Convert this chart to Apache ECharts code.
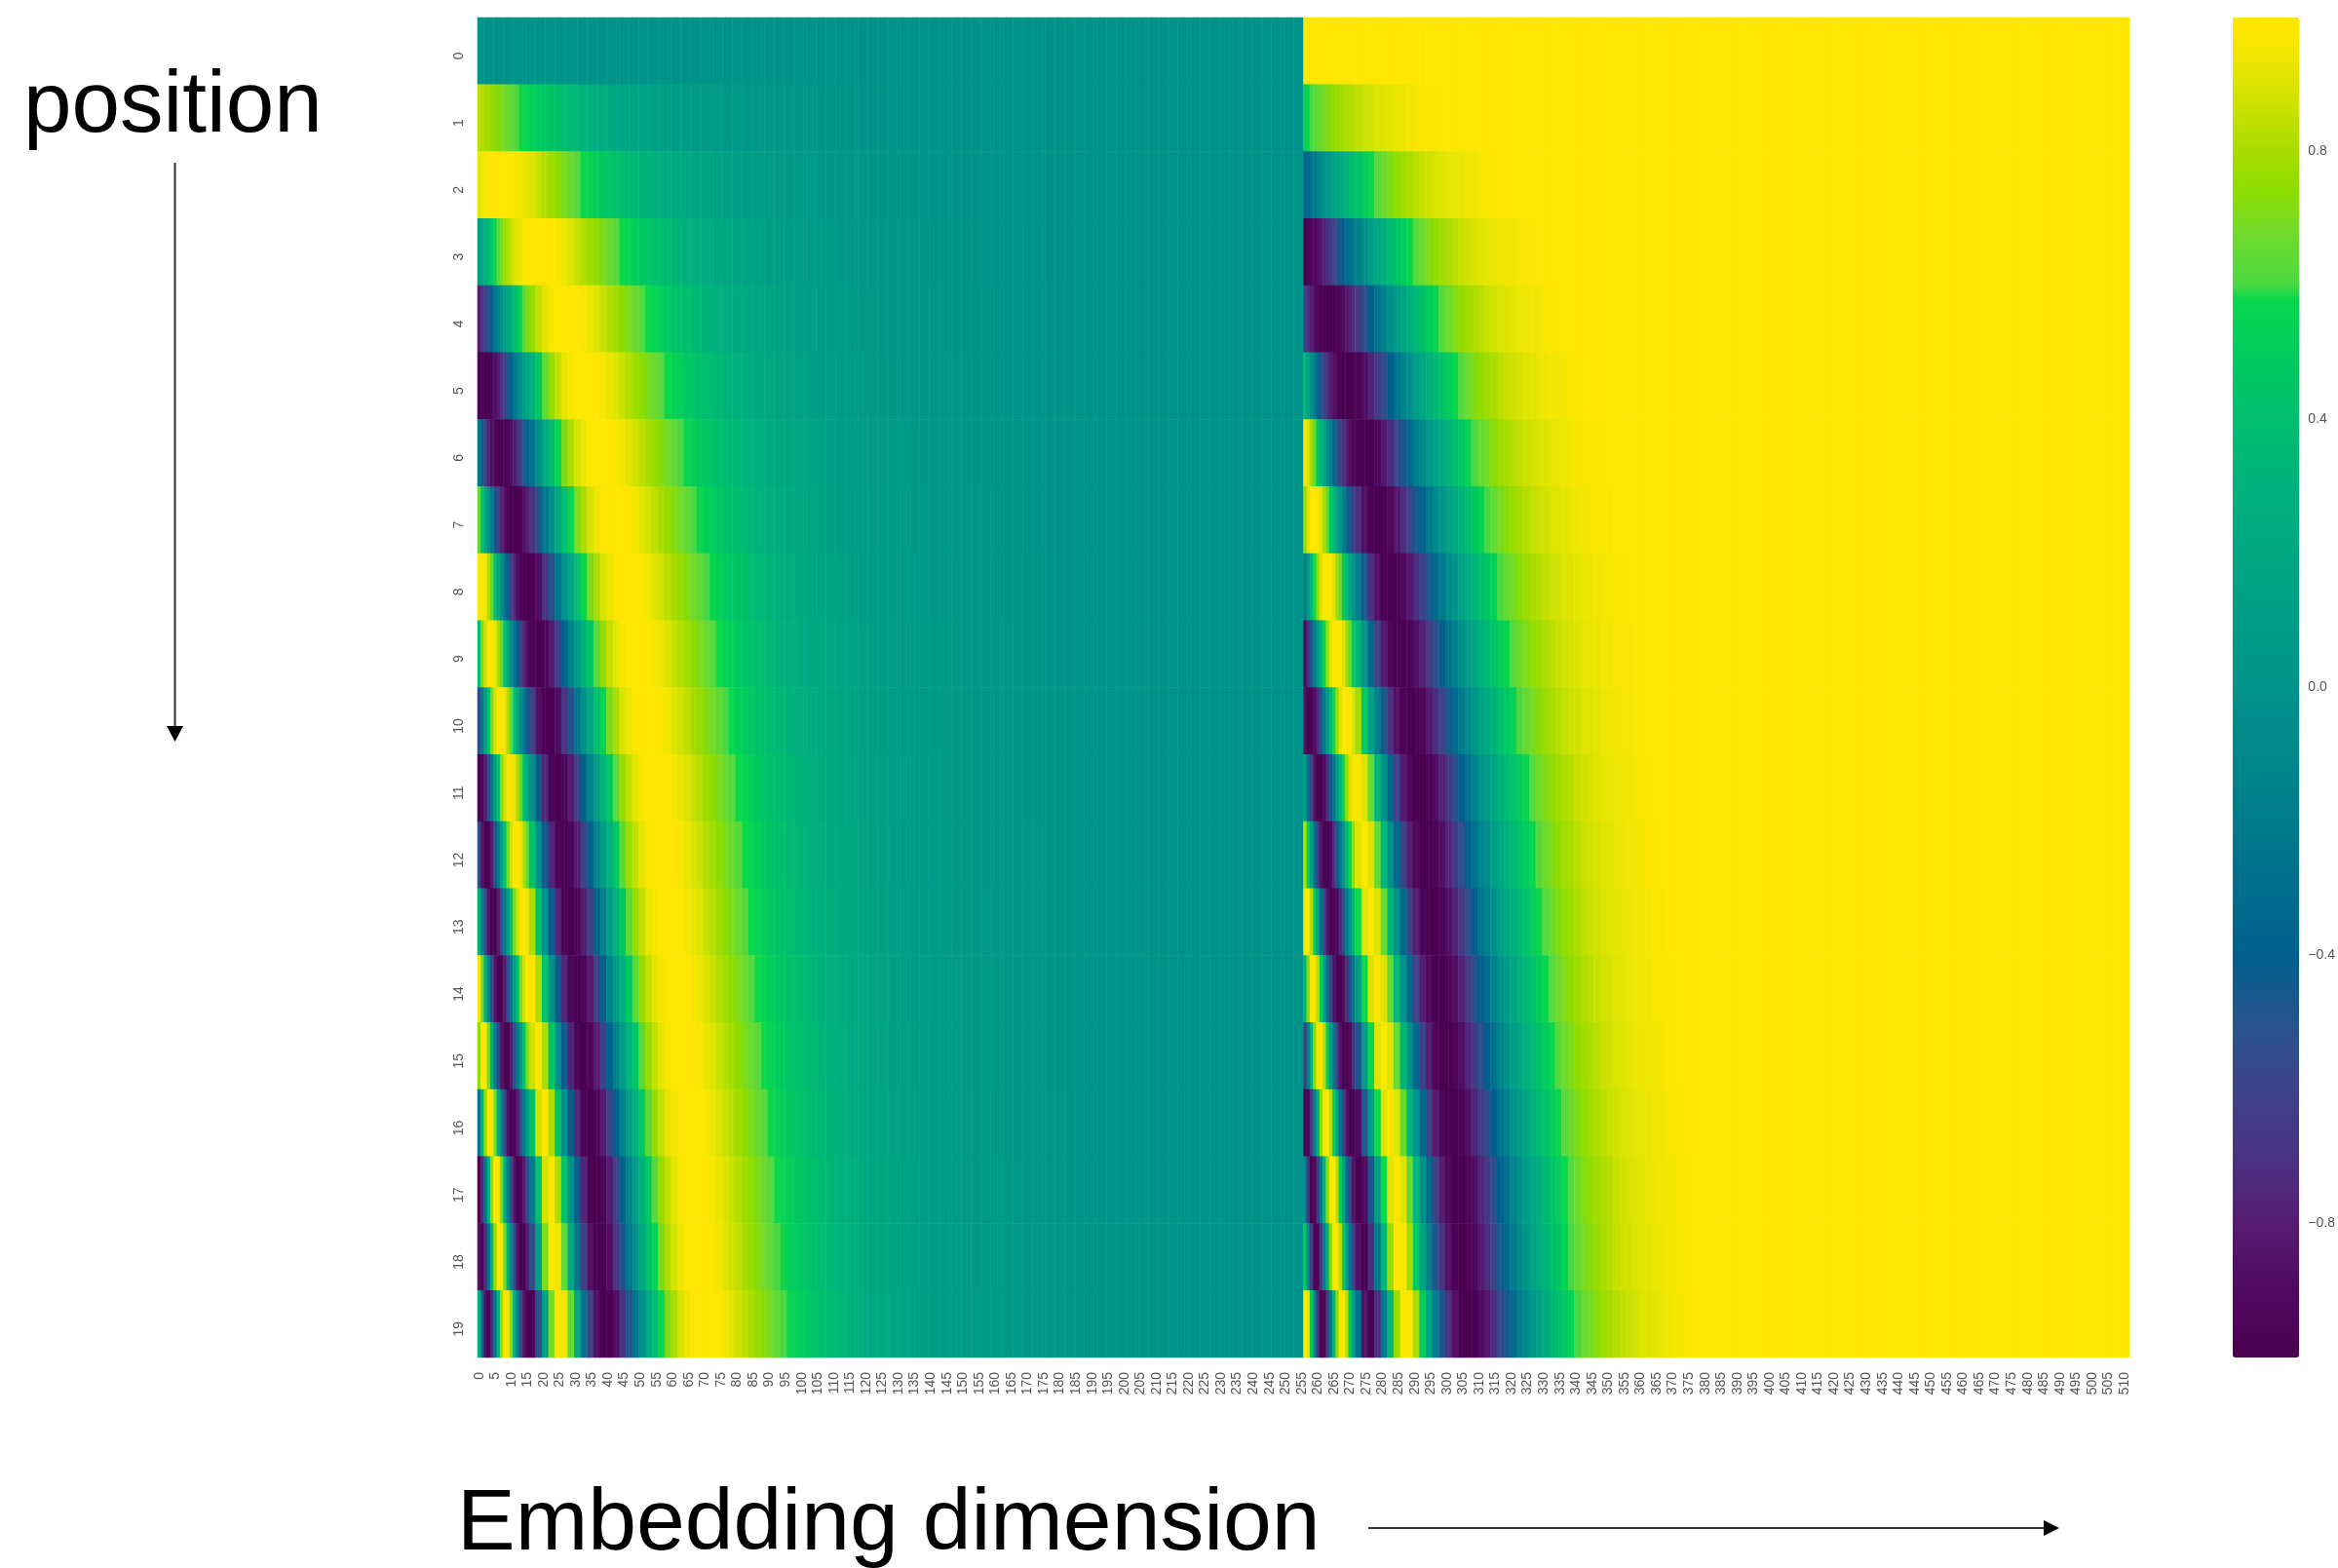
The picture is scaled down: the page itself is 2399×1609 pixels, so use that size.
<!DOCTYPE html>
<html>
<head>
<meta charset="utf-8">
<style>html,body{margin:0;padding:0;background:#fff}#c{width:2399px;height:1609px}</style>
<script src="https://cdn.jsdelivr.net/npm/echarts@6/dist/echarts.min.js"></script>
</head>
<body>
<div id="c"></div>
<script>
// Column groups: how many embedding columns each stored value covers (each half has 256 columns)
const binWidths = [1,1,1,1,1,1,1,1,1,1,1,1,1,1,1,1,
  2,2,2,2,2,2,2,2,2,2,2,2,2,2,2,2,2,2,2,2,
  2,2,2,2,2,2,2,2,2,2,2,2,2,2,2,2,2,2,2,2,2,2,2,2,2,2,2,2,2,2,2,2,
  8,8,8,8,8,8,8,8, 24,24,24];

// Left half (columns 0-255), in hundredths; bins not listed read as teal 0
const leftRows = [
 [],
 [84,82,80,78,76,74,72,70,68,66,64,62,60,59,57,55, 53,50,47,44,41,38,36,33,31,29,27,25,24,22,20,19,18,16,15,14, 13,12,12,11,10,9,9,8,7,7,6,6,6,5,5,5,4,4,4,3,3,3,3,3,2,2,2,2,2,2,2,1, 1,1,1],
 [92,94,96,98,99,100,100,100,100,99,98,97,96,95,93,91, 90,86,82,78,74,70,66,62,59,55,52,48,45,42,40,37,35,32,30,28, 26,24,23,21,20,18,17,16,15,14,13,12,11,10,10,9,8,8,7,7,6,6,5,5,5,4,4,4,3,3,3,3, 2,2,1,1,1,1],
 [9,20,30,39,48,56,63,70,76,81,85,89,92,94,96,98, 99,100,100,98,96,93,90,86,82,78,74,70,66,62,59,55,52,48,45,42, 40,37,35,32,30,28,26,24,23,21,20,18,17,16,15,14,13,12,11,10,10,9,8,8,7,7,6,6,5,5,5,4, 3,3,2,2,1,1,1],
 [-80,-70,-60,-49,-37,-25,-13,-2,9,20,30,39,48,56,63,70, 76,85,92,96,99,100,100,98,96,93,90,86,82,78,74,70,66,62,59,55, 52,48,45,42,40,37,35,32,30,28,26,24,23,21,20,18,17,16,15,14,13,12,11,10,10,9,8,8,7,7,6,6, 5,3,3,2,2,1,1,1],
 [-95,-99,-100,-98,-94,-88,-80,-70,-60,-49,-37,-25,-13,-2,9,20, 30,48,63,76,85,92,96,99,100,100,98,96,93,90,86,82,78,74,70,66, 62,59,55,52,48,45,42,40,37,35,32,30,28,26,24,23,21,20,18,17,16,15,14,13,12,11,10,10,9,8,8,7, 6,4,3,3,2,1,1,1],
 [-24,-44,-61,-76,-87,-95,-99,-100,-98,-94,-88,-80,-70,-60,-49,-37, -25,-2,20,39,56,70,81,89,94,98,100,100,99,97,95,91,88,84,80,76, 72,68,64,60,57,53,50,47,44,41,38,36,33,31,29,27,25,24,22,20,19,18,16,15,14,13,12,12,11,10,9,9, 7,5,4,3,2,2,1,1, 1],
 [64,43,20,-2,-24,-44,-61,-76,-87,-95,-99,-100,-98,-94,-88,-80, -70,-49,-25,-2,20,39,56,70,81,89,94,98,100,100,99,97,95,91,88,84, 80,76,72,68,64,60,57,53,50,47,44,41,38,36,33,31,29,27,25,24,22,20,19,18,16,15,14,13,12,12,11,10, 8,6,5,3,3,2,1,1, 1],
 [98,100,94,81,64,43,20,-2,-24,-44,-61,-76,-87,-95,-99,-100, -98,-88,-70,-49,-25,-2,20,39,56,70,81,89,94,98,100,100,99,97,95,91, 88,84,80,76,72,68,64,60,57,53,50,47,44,41,38,36,33,31,29,27,25,24,22,20,19,18,16,15,14,13,12,12, 9,7,5,4,3,2,2,1, 1],
 [43,70,88,98,100,94,81,64,43,20,-2,-24,-44,-61,-76,-87, -95,-100,-94,-80,-60,-37,-13,9,30,48,63,76,85,92,96,99,100,100,98,96, 93,90,86,82,78,74,70,66,62,59,55,52,48,45,42,40,37,35,32,30,28,26,24,23,21,20,18,17,16,15,14,13, 10,8,6,4,3,3,2,1, 1],
 [-53,-21,12,43,70,88,98,100,94,81,64,43,20,-2,-24,-44, -61,-87,-99,-98,-88,-70,-49,-25,-2,20,39,56,70,81,89,94,98,100,100,99, 97,95,91,88,84,80,76,72,68,64,60,57,53,50,47,44,41,38,36,33,31,29,27,25,24,22,20,19,18,16,15,14, 12,9,6,5,4,3,2,2, 1],
 [-99,-97,-80,-53,-21,12,43,70,88,98,100,94,81,64,43,20, -2,-44,-76,-95,-100,-94,-80,-60,-37,-13,9,30,48,63,76,85,92,96,99,100, 100,98,96,93,90,86,82,78,74,70,66,62,59,55,52,48,45,42,40,37,35,32,30,28,26,24,23,21,20,18,17,16, 13,10,7,5,4,3,2,2, 1],
 [-56,-85,-99,-97,-80,-53,-21,12,43,70,88,98,100,94,81,64, 43,-2,-44,-76,-95,-100,-94,-80,-60,-37,-13,9,30,48,63,76,85,92,96,99, 100,100,98,96,93,90,86,82,78,74,70,66,62,59,55,52,48,45,42,40,37,35,32,30,28,26,24,23,21,20,18,17, 14,10,8,6,4,3,3,2, 1],
 [28,-16,-56,-85,-99,-97,-80,-53,-21,12,43,70,88,98,100,94, 81,43,-2,-44,-76,-95,-100,-94,-80,-60,-37,-13,9,30,48,63,76,85,92,96, 99,100,100,98,96,93,90,86,82,78,74,70,66,62,59,55,52,48,45,42,40,37,35,32,30,28,26,24,23,21,20,18, 15,11,8,6,5,3,3,2, 1],
 [95,69,28,-16,-56,-85,-99,-97,-80,-53,-21,12,43,70,88,98, 100,81,43,-2,-44,-76,-95,-100,-94,-80,-60,-37,-13,9,30,48,63,76,85,92, 96,99,100,100,98,96,93,90,86,82,78,74,70,66,62,59,55,52,48,45,42,40,37,35,32,30,28,26,24,23,21,20, 16,12,9,7,5,4,3,2, 1,1],
 [75,98,95,69,28,-16,-56,-85,-99,-97,-80,-53,-21,12,43,70, 88,100,81,43,-2,-44,-76,-95,-100,-94,-80,-60,-37,-13,9,30,48,63,76,85, 92,96,99,100,100,98,96,93,90,86,82,78,74,70,66,62,59,55,52,48,45,42,40,37,35,32,30,28,26,24,23,21, 17,13,10,7,5,4,3,2, 1,1],
 [-25,31,75,98,95,69,28,-16,-56,-85,-99,-97,-80,-53,-21,12, 43,88,100,81,43,-2,-44,-76,-95,-100,-94,-80,-60,-37,-13,9,30,48,63,76, 85,92,96,99,100,100,98,96,93,90,86,82,78,74,70,66,62,59,55,52,48,45,42,40,37,35,32,30,28,26,24,23, 18,14,10,8,6,4,3,3, 1,1],
 [-99,-75,-25,31,75,98,95,69,28,-16,-56,-85,-99,-97,-80,-53, -21,43,88,100,81,43,-2,-44,-76,-95,-100,-94,-80,-60,-37,-13,9,30,48,63, 76,85,92,96,99,100,100,98,96,93,90,86,82,78,74,70,66,62,59,55,52,48,45,42,40,37,35,32,30,28,26,24, 20,15,11,8,6,5,3,3, 1,1],
 [-87,-99,-75,-25,31,75,98,95,69,28,-16,-56,-85,-99,-97,-80, -53,12,70,98,94,64,20,-24,-61,-87,-99,-98,-88,-70,-49,-25,-2,20,39,56, 70,81,89,94,98,100,100,99,97,95,91,88,84,80,76,72,68,64,60,57,53,50,47,44,41,38,36,33,31,29,27,25, 20,15,11,9,6,5,4,3, 2,1],
 [26,-37,-87,-99,-75,-25,31,75,98,95,69,28,-16,-56,-85,-99, -97,-53,12,70,98,94,64,20,-24,-61,-87,-99,-98,-88,-70,-49,-25,-2,20,39, 56,70,81,89,94,98,100,100,99,97,95,91,88,84,80,76,72,68,64,60,57,53,50,47,44,41,38,36,33,31,29,27, 22,16,12,9,7,5,4,3, 2,1]
];

// Right half (columns 256-511), in hundredths; bins not listed read as yellow 100
const rightRows = [
 [],
 [54,57,60,62,65,67,69,71,73,75,77,78,80,81,82,83, 85,87,88,90,91,92,93,94,95,96,96,97,97,98,98,98,98,99,99,99],
 [-40,-33,-27,-21,-14,-8,-3,3,9,14,19,24,28,32,36,40, 44,51,57,62,67,71,75,78,81,83,86,88,89,91,92,93,94,95,95,96, 97,97,98],
 [-100,-98,-95,-92,-88,-83,-77,-72,-65,-59,-53,-46,-40,-33,-27,-21, -14,-3,9,19,28,36,44,51,57,62,67,71,75,78,81,83,86,88,89,91, 92,93,94,95,95,96,97,97,98],
 [-60,-71,-80,-87,-93,-97,-99,-100,-100,-98,-95,-92,-88,-83,-77,-72, -65,-53,-40,-27,-14,-3,9,19,28,36,44,51,57,62,67,71,75,78,81,83, 86,88,89,91,92,93,94,95,95,96,97,97,98],
 [33,15,-2,-18,-34,-48,-60,-71,-80,-87,-93,-97,-99,-100,-100,-98, -95,-88,-77,-65,-53,-40,-27,-14,-3,9,19,28,36,44,51,57,62,67,71,75, 78,81,83,86,88,89,91,92,93,94,95,95,96,97,97,98],
 [97,90,79,65,49,33,15,-2,-18,-34,-48,-60,-71,-80,-87,-93, -97,-100,-98,-92,-83,-72,-59,-46,-33,-21,-8,3,14,24,32,40,48,54,60,65, 69,73,77,80,82,85,87,88,90,91,92,93,94,95,96,96,97,97,98],
 [77,90,98,100,97,90,79,65,49,33,15,-2,-18,-34,-48,-60, -71,-87,-97,-100,-98,-92,-83,-72,-59,-46,-33,-21,-8,3,14,24,32,40,48,54, 60,65,69,73,77,80,82,85,87,88,90,91,92,93,94,95,96,96,97,97,98],
 [-21,8,35,59,77,90,98,100,97,90,79,65,49,33,15,-2, -18,-48,-71,-87,-97,-100,-98,-92,-83,-72,-59,-46,-33,-21,-8,3,14,24,32,40, 48,54,60,65,69,73,77,80,82,85,87,88,90,91,92,93,94,95,96,96,97,97,98],
 [-90,-72,-47,-21,8,35,59,77,90,98,100,97,90,79,65,49, 33,-2,-34,-60,-80,-93,-99,-100,-95,-88,-77,-65,-53,-40,-27,-14,-3,9,19,28, 36,44,51,57,62,67,71,75,78,81,83,86,88,89,91,92,93,94,95,95,96,97,97,98],
 [-85,-98,-99,-90,-72,-47,-21,8,35,59,77,90,98,100,97,90, 79,49,15,-18,-48,-71,-87,-97,-100,-98,-92,-83,-72,-59,-46,-33,-21,-8,3,14, 24,32,40,48,54,60,65,69,73,77,80,82,85,87,88,90,91,92,93,94,95,96,96,97,97,98],
 [11,-27,-60,-85,-98,-99,-90,-72,-47,-21,8,35,59,77,90,98, 100,90,65,33,-2,-34,-60,-80,-93,-99,-100,-95,-88,-77,-65,-53,-40,-27,-14,-3, 9,19,28,36,44,51,57,62,67,71,75,78,81,83,86,88,89,91,92,93,94,95,95,96,97,97,98],
 [83,52,11,-27,-60,-85,-98,-99,-90,-72,-47,-21,8,35,59,77, 90,100,90,65,33,-2,-34,-60,-80,-93,-99,-100,-95,-88,-77,-65,-53,-40,-27,-14, -3,9,19,28,36,44,51,57,62,67,71,75,78,81,83,86,88,89,91,92,93,94,95,95,96,97,97,98],
 [96,99,83,52,11,-27,-60,-85,-98,-99,-90,-72,-47,-21,8,35, 59,90,100,90,65,33,-2,-34,-60,-80,-93,-99,-100,-95,-88,-77,-65,-53,-40,-27, -14,-3,9,19,28,36,44,51,57,62,67,71,75,78,81,83,86,88,89,91,92,93,94,95,95,96,97,97,98],
 [32,73,96,99,83,52,11,-27,-60,-85,-98,-99,-90,-72,-47,-21, 8,59,90,100,90,65,33,-2,-34,-60,-80,-93,-99,-100,-95,-88,-77,-65,-53,-40, -27,-14,-3,9,19,28,36,44,51,57,62,67,71,75,78,81,83,86,88,89,91,92,93,94,95,95,96,97,97,98],
 [-66,-19,32,73,96,99,83,52,11,-27,-60,-85,-98,-99,-90,-72, -47,8,59,90,100,90,65,33,-2,-34,-60,-80,-93,-99,-100,-95,-88,-77,-65,-53, -40,-27,-14,-3,9,19,28,36,44,51,57,62,67,71,75,78,81,83,86,88,89,91,92,93,94,95,95,96,97,97,98],
 [-97,-95,-66,-19,32,73,96,99,83,52,11,-27,-60,-85,-98,-99, -90,-47,8,59,90,100,90,65,33,-2,-34,-60,-80,-93,-99,-100,-95,-88,-77,-65, -53,-40,-27,-14,-3,9,19,28,36,44,51,57,62,67,71,75,78,81,83,86,88,89,91,92,93,94,95,95,96,97,97,98],
 [-10,-66,-97,-95,-66,-19,32,73,96,99,83,52,11,-27,-60,-85, -98,-90,-47,8,59,90,100,90,65,33,-2,-34,-60,-80,-93,-99,-100,-95,-88,-77, -65,-53,-40,-27,-14,-3,9,19,28,36,44,51,57,62,67,71,75,78,81,83,86,88,89,91,92,93,94,95,95,96,97,97],
 [50,-10,-66,-97,-95,-66,-19,32,73,96,99,83,52,11,-27,-60, -85,-99,-72,-21,35,77,98,97,79,49,15,-18,-48,-71,-87,-97,-100,-98,-92,-83, -72,-59,-46,-33,-21,-8,3,14,24,32,40,48,54,60,65,69,73,77,80,82,85,87,88,90,91,92,93,94,95,96,96,97],
 [97,93,50,-10,-66,-97,-95,-66,-19,32,73,96,99,83,52,11, -27,-85,-99,-72,-21,35,77,98,97,79,49,15,-18,-48,-71,-87,-97,-100,-98,-92, -83,-72,-59,-46,-33,-21,-8,3,14,24,32,40,48,54,60,65,69,73,77,80,82,85,87,88,90,91,92,93,94,95,96,96]
];

// Tick labels
const positions = Array.from({length: 20}, (_, i) => String(i));
const dimensions = Array.from({length: 512}, (_, i) => String(i));
const colorbarTicks = [-0.8, -0.4, 0, 0.4, 0.8];

// Colour scale: value, colour
const colorStops = [
 [-1,'#4A0050'],[-0.9,'#500A60'],[-0.8,'#561C72'],[-0.7,'#4A3381'],[-0.6,'#3E4388'],[-0.5,'#27548C'],
 [-0.4,'#005F8E'],[-0.2,'#007C8C'],[0,'#00938A'],[0.2,'#00A782'],[0.3,'#00B27C'],[0.4,'#00BE6E'],
 [0.5,'#00CB5E'],[0.59,'#0AD84A'],[0.595,'#45D845'],[0.62,'#55D93C'],[0.68,'#72DB2B'],[0.74,'#8DDC00'],
 [0.8,'#A8DC00'],[0.9,'#DCE400'],[0.95,'#F2E700'],[0.97,'#FBE600'],[0.98,'#FFE600'],[1,'#FFE600']
];

function hex(c){return [1,3,5].map(i=>parseInt(c.substr(i,2),16));}
function colorAt(v){
  for(let i=1;i<colorStops.length;i++){
    const [a,ca]=colorStops[i-1],[b,cb]=colorStops[i];
    if(v<=b+1e-9){
      const t=(v-a)/(b-a),A=hex(ca),B=hex(cb);
      return 'rgb('+A.map((x,j)=>Math.round(x+(B[j]-x)*t)).join(',')+')';
    }
  }
  return colorStops[colorStops.length-1][1];
}
const ramp=[];
for(let i=0;i<=400;i++) ramp.push(colorAt(-1+i*0.005));

// Expand the stored rows into heatmap cells
const cells=[];
positions.forEach((_,row)=>{
  [[leftRows[row],0,0],[rightRows[row],256,100]].forEach(([vals,start,fill])=>{
    let col=start;
    binWidths.forEach((w,b)=>{
      const v=(b<vals.length?vals[b]:fill)/100;
      for(let n=0;n<w;n++){cells.push([col,row,v]);col++;}
    });
  });
});

const FONT='"Liberation Sans", Arial, sans-serif';
const TICK='#555555';
const chart=echarts.init(document.getElementById('c'),null,{renderer:'canvas'});
chart.setOption({
  animation:false,
  backgroundColor:'#ffffff',
  textStyle:{fontFamily:FONT},
  grid:[
    {left:490,top:18,width:1695,height:1375},
    {left:2291,top:18,width:68,height:1375}
  ],
  xAxis:[
    {type:'category',data:dimensions,gridIndex:0,position:'bottom',
     axisLine:{show:false},axisTick:{show:false},splitLine:{show:false},
     axisLabel:{interval:4,rotate:90,fontSize:14,color:TICK,margin:15,fontFamily:FONT}},
    {type:'value',gridIndex:1,show:false,min:0,max:1}
  ],
  yAxis:[
    {type:'category',data:positions,inverse:true,gridIndex:0,
     axisLine:{show:false},axisTick:{show:false},splitLine:{show:false},
     axisLabel:{rotate:90,fontSize:14,color:TICK,margin:12,fontFamily:FONT,padding:[0,10,0,0]}},
    {type:'value',gridIndex:1,min:-1,max:1,position:'right',
     axisLine:{show:false},axisTick:{show:false},splitLine:{show:false},
     axisLabel:{customValues:colorbarTicks,fontSize:14,color:TICK,margin:11,fontFamily:FONT,padding:[14,0,0,0],
       formatter:v=>(v<0?'\u2212':'')+Math.abs(v).toFixed(1)}}
  ],
  visualMap:{type:'continuous',min:-1,max:1,seriesIndex:0,calculable:false,orient:'vertical',
    left:2291,top:18,itemWidth:68,itemHeight:1375,padding:0,text:null,realtime:false,
    inRange:{color:ramp}},
  series:[{type:'heatmap',data:cells,xAxisIndex:0,yAxisIndex:0,progressive:0,
    itemStyle:{borderWidth:0},emphasis:{disabled:true},silent:true}],
  graphic:[
    {type:'text',left:24,top:66,style:{text:'position',font:'89px '+FONT,fill:'#000'}},
    {type:'text',left:469,top:1520,style:{text:'Embedding dimension',font:'89.5px '+FONT,fill:'#000'}},
    {type:'line',shape:{x1:179.5,y1:167,x2:179.5,y2:748},style:{stroke:'#333',lineWidth:2}},
    {type:'polygon',shape:{points:[[171,745],[188,745],[179.5,761]]},style:{fill:'#000'}},
    {type:'line',shape:{x1:1404,y1:1568,x2:2100,y2:1568},style:{stroke:'#333',lineWidth:2}},
    {type:'polygon',shape:{points:[[2097,1560],[2097,1576],[2113,1568]]},style:{fill:'#000'}}
  ]
});
</script>
</body>
</html>
